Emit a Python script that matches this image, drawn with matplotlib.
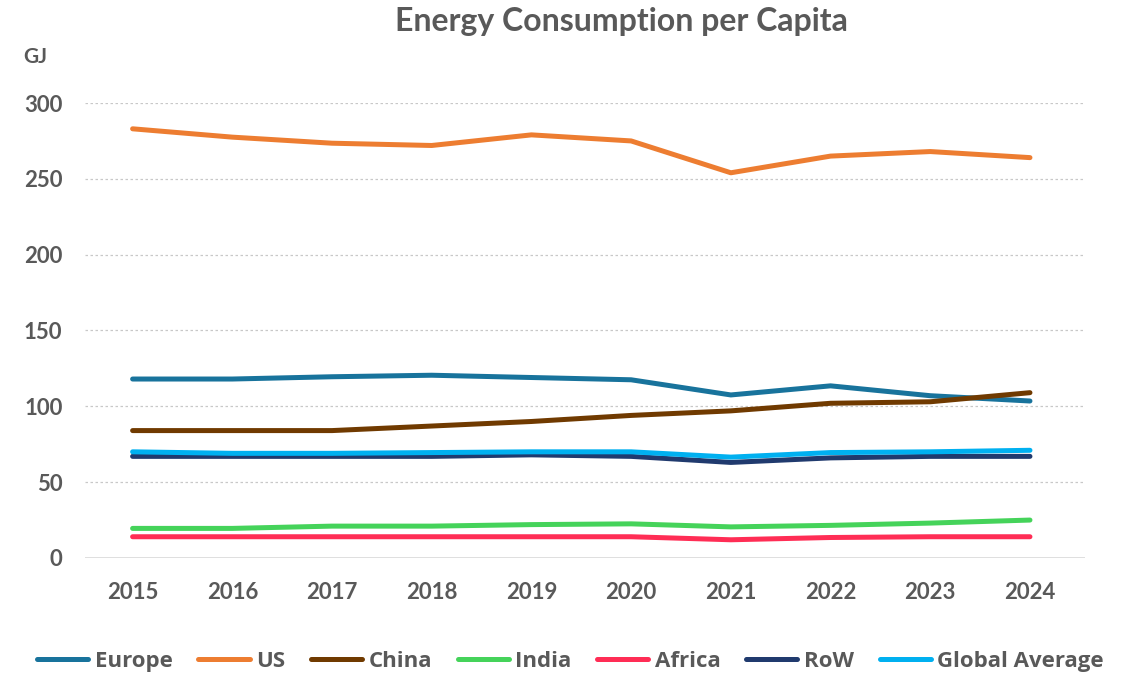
import matplotlib
matplotlib.use("Agg")
import matplotlib.pyplot as plt

years = [2015, 2016, 2017, 2018, 2019, 2020, 2021, 2022, 2023, 2024]

europe = [118, 118, 119.5, 120.5, 119, 117.5, 107.5, 113.5, 107, 103.5]
us = [283, 277.5, 273.5, 272, 279, 275, 254, 265, 268, 264]
china = [84, 84, 84, 87, 90, 94, 97, 102, 103, 109]
india = [19.5, 19.5, 21, 21, 22, 22.5, 20.5, 21.5, 23, 25]
africa = [14, 14, 14, 14, 14, 14, 12, 13.5, 14, 14]
row = [67, 67, 67, 67, 68, 67, 63, 66, 67, 67]
global_avg = [70, 69, 69, 69.5, 70, 70, 66.5, 69.5, 70, 71]

series = [
    ("Europe", europe, "#18739c"),
    ("US", us, "#ed7d31"),
    ("China", china, "#703a00"),
    ("India", india, "#45d35a"),
    ("Africa", africa, "#ff2d55"),
    ("RoW", row, "#203a6e"),
    ("Global Average", global_avg, "#00b0f0"),
]

plt.rcParams['font.family'] = ['Lato', 'DejaVu Sans']
text_col = "#595959"

fig = plt.figure(figsize=(11.3, 6.76), dpi=100)
ax = fig.add_axes([0.075, 0.1746, 0.885, 0.673])

for name, vals, col in series:
    ax.plot(years, vals, color=col, lw=3.6, label=name, solid_capstyle='round')

ax.set_ylim(0, 300)
ax.set_xlim(2014.52, 2024.55)
ax.set_yticks(range(0, 301, 50))
ax.set_xticks(years)
for y in range(50, 301, 50):
    ax.axhline(y, color="#c8c8c8", lw=0.9, ls=(0, (2, 2)), zorder=0)
ax.axhline(0, color="#d9d9d9", lw=1.2, zorder=0)

for s in ax.spines.values():
    s.set_visible(False)
ax.tick_params(length=0, labelsize=16, labelcolor=text_col)
ax.tick_params(axis='y', pad=16)
ax.tick_params(axis='x', pad=17)
for lab in ax.get_xticklabels() + ax.get_yticklabels():
    lab.set_fontweight('bold')

fig.text(0.55, 0.968, "Energy Consumption per Capita", ha='center', va='center',
         fontsize=23, fontweight='bold', color=text_col)
fig.text(0.031, 0.915, "GJ", ha='center', va='center', fontsize=15,
         fontweight='bold', color=text_col)

leg = fig.legend(loc='center', bbox_to_anchor=(0.505, 0.022), ncol=7, frameon=False,
                 handlelength=2.3, handletextpad=0.3, columnspacing=1.15,
                 prop={'family': 'Open Sans', 'size': 16, 'weight': 'bold'})
for t in leg.get_texts():
    t.set_color(text_col)

fig.savefig("out.png", dpi=100)
